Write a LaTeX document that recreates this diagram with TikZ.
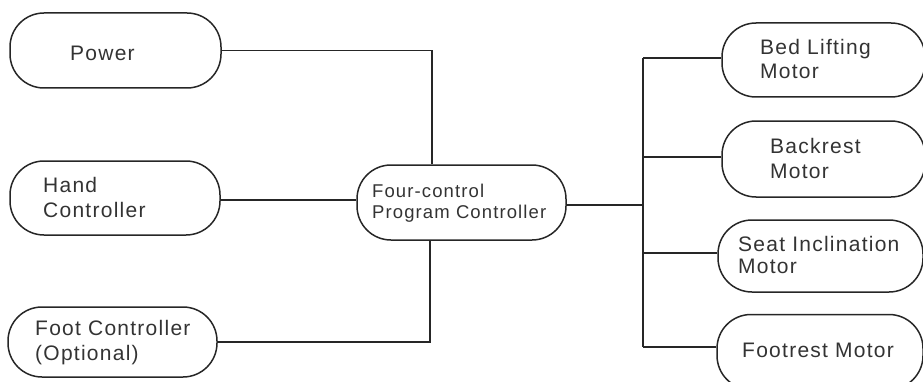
\documentclass[tikz,border=0pt]{standalone}
\usepackage{fontspec}
\setmainfont{Liberation Sans}[LetterSpace=6.0]
\begin{document}
\begin{tikzpicture}[x=1pt,y=1pt,
  box/.style={draw=black!85, line width=1.5pt, rounded corners=34pt, inner sep=0pt, minimum width=#1},
  lbl/.style={anchor=base west, inner sep=0pt, align=left, text=black!80, font=\fontsize{21}{24.5}\selectfont},
  lblsmall/.style={lbl, font=\fontsize{18.5}{21}\selectfont},
  wire/.style={draw=black!85, line width=1.5pt}]
\useasboundingbox (0,0) rectangle (923,381);
% left boxes
\node[box=211pt, minimum height=75pt] (power) at (115.5,330.5) {};
\node[box=210pt, minimum height=74pt] (hand) at (115,183) {};
\node[box=209pt, minimum height=70pt] (foot) at (112.5,39) {};
% center
\node[box=209pt, minimum height=75pt] (ctrl) at (461.5,178.5) {};
% right boxes
\node[box=203pt, minimum height=74pt] (bed) at (823.5,321) {};
\node[box=203pt, minimum height=76pt] (back) at (823.5,222) {};
\node[box=205pt, minimum height=72pt] (seat) at (820.5,125) {};
\node[box=206pt, minimum height=75pt] (footm) at (820,29) {};
% texts (anchor = baseline of the last line)
\node[lbl] (tpower) at (70,320) {Power};
\node[lbl] (thand) at (43,164) {Hand\\Controller};
\node[lbl] (tfoot) at (35,21) {Foot Controller\\(Optional)};
\node[lblsmall] (tctrl) at (372,163) {Four-control\\Program Controller};
\node[lbl] (tbed) at (760,302) {Bed Lifting\\Motor};
\node[lbl] (tback) at (770,203) {Backrest\\Motor};
\node[lbl, font=\fontsize{21}{21.5}\selectfont] (tseat) at (738,108) {Seat Inclination\\Motor};
\node[lbl] (tfootm) at (742,24) {Footrest Motor};
% connectors
\coordinate (bus) at (643,200);
\draw[wire] (power.east) -| ([xshift=-29.5pt]ctrl.north);
\draw[wire] ([yshift=-2pt]hand.east) -- ([yshift=-2pt]hand.east -| ctrl.west);
\draw[wire] (foot.east) -| ([xshift=-31.5pt]ctrl.south);
\draw[wire] ([yshift=-2.5pt]ctrl.east) -- ([yshift=-2.5pt]ctrl.east -| bus);
\draw[wire] ([yshift=2pt]bed.west -| bus) -- ([yshift=5pt]footm.west -| bus);
\draw[wire] ([yshift=2pt]bed.west) -- ([yshift=2pt]bed.west -| bus);
\draw[wire] ([yshift=2pt]back.west) -- ([yshift=2pt]back.west -| bus);
\draw[wire] ([yshift=3pt]seat.west) -- ([yshift=3pt]seat.west -| bus);
\draw[wire] ([yshift=5pt]footm.west) -- ([yshift=5pt]footm.west -| bus);
\end{tikzpicture}
\end{document}
